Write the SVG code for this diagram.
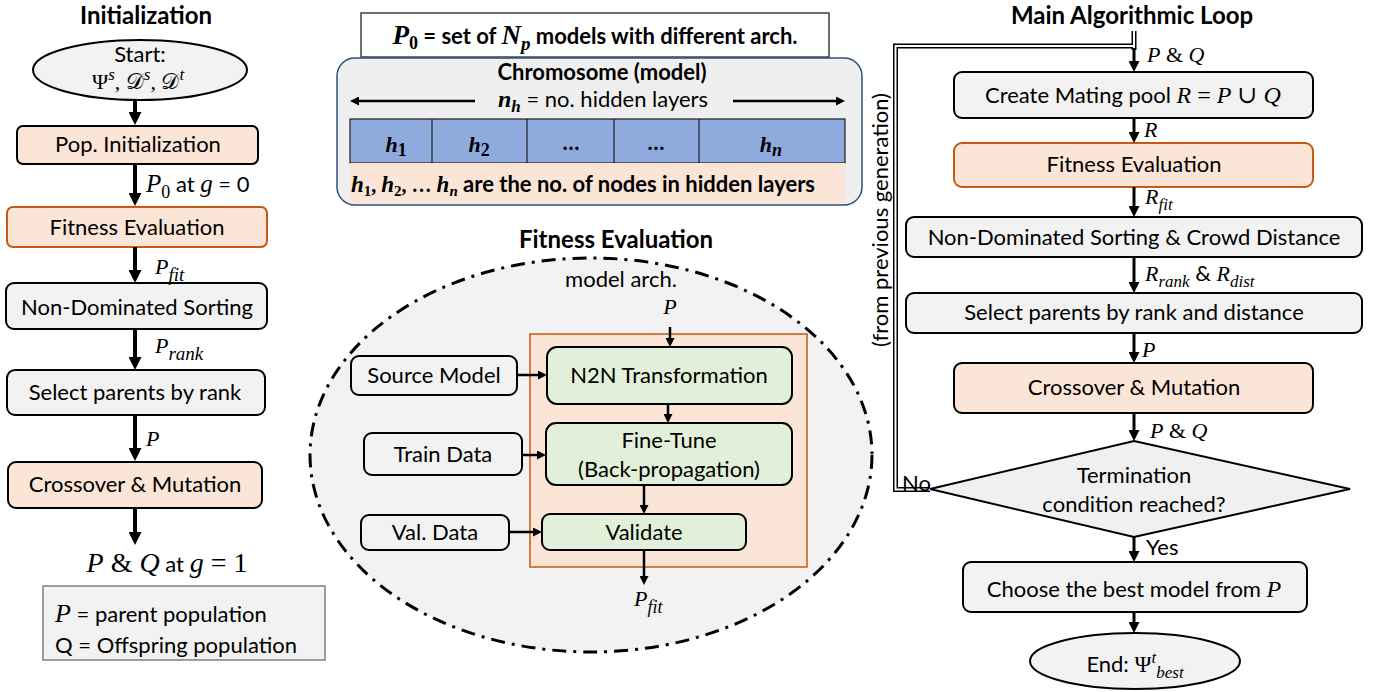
<svg xmlns="http://www.w3.org/2000/svg" width="1374" height="692" viewBox="0 0 1374 692">
<style>
text{font-family:Lato,"Liberation Sans",sans-serif;font-size:22px;fill:#000}
.c{text-anchor:middle}
.b{font-weight:bold}
.t{font-weight:bold;font-size:24px;text-anchor:middle}
.m{font-family:"Liberation Serif","DejaVu Serif",serif;font-style:italic}
.up{font-style:normal}
.sub{font-size:17px}
.box{stroke:#000;stroke-width:2}
.gray{fill:#F2F2F2}
.peach{fill:#FBE5D6}
.orange{stroke:#C55A11}
.green{fill:#E2F0D9}
.arL{stroke:#000;stroke-width:4;fill:none;marker-end:url(#aL)}
.arR{stroke:#000;stroke-width:3;fill:none;marker-end:url(#aR)}
.arM{stroke:#000;stroke-width:2.5;fill:none;marker-end:url(#aM)}
</style>
<defs>
<marker id="aL" markerUnits="userSpaceOnUse" markerWidth="13" markerHeight="13" refX="1" refY="6.5" orient="auto"><path d="M0,0 L13,6.5 L0,13 z" fill="#000"/></marker>
<marker id="aR" markerUnits="userSpaceOnUse" markerWidth="11" markerHeight="11" refX="1" refY="5.5" orient="auto"><path d="M0,0 L11,5.5 L0,11 z" fill="#000"/></marker>
<marker id="aM" markerUnits="userSpaceOnUse" markerWidth="9" markerHeight="9" refX="1" refY="4.5" orient="auto"><path d="M0,0 L9,4.5 L0,9 z" fill="#000"/></marker>
</defs>
<rect width="1374" height="692" fill="#fff"/>

<!-- ===== Left column: Initialization ===== -->
<text class="t" x="146" y="24">Initialization</text>
<g id="start">
<ellipse cx="140" cy="70" rx="107" ry="30" class="box gray"/>
<text class="c" x="140" y="62">Start:</text>
<text class="c m" x="138" y="89" font-size="23"><tspan class="up">Ψ</tspan><tspan dy="-9" class="sub">s</tspan><tspan dy="9" class="up">, 𝒟</tspan><tspan dy="-9" class="sub">s</tspan><tspan dy="9" class="up">, 𝒟</tspan><tspan dy="-9" class="sub">t</tspan></text>
</g>
<g id="pop-init">
<rect x="17" y="126" width="241" height="38" rx="6" class="box peach"/>
<text class="c" x="138" y="152">Pop. Initialization</text>
</g>
<g id="fit-eval-l">
<rect x="7" y="207" width="260" height="40" rx="6" class="box peach orange"/>
<text class="c" x="137" y="235">Fitness Evaluation</text>
</g>
<g id="nds-l">
<rect x="6" y="283" width="261" height="46" rx="8" class="box gray"/>
<text class="c" x="137" y="315">Non-Dominated Sorting</text>
</g>
<g id="select-l">
<rect x="7" y="370" width="258" height="45" rx="8" class="box gray"/>
<text class="c" x="135" y="400">Select parents by rank</text>
</g>
<g id="cross-l">
<rect x="8" y="462" width="254" height="46" rx="8" class="box peach"/>
<text class="c" x="135" y="492">Crossover &amp; Mutation</text>
</g>
<g id="pq-g1">
<text class="c" x="167" y="572" font-size="24"><tspan class="m" font-size="28">P</tspan><tspan class="m up" font-size="28"> &amp; </tspan><tspan class="m" font-size="28">Q</tspan> at <tspan class="m" font-size="28">g</tspan><tspan class="m up" font-size="28"> = 1</tspan></text>
</g>
<g id="legend">
<rect x="43" y="586" width="282" height="74" fill="#F2F2F2" stroke="#7F7F7F" stroke-width="1.5"/>
<text x="55" y="622" font-size="23"><tspan class="m" font-size="26">P</tspan> = parent population</text>
<text x="55" y="653" font-size="23">Q = Offspring population</text>
</g>

<!-- ===== Middle top: chromosome ===== -->
<g id="p0-box">
<rect x="361" y="13" width="468" height="44" fill="#fff" stroke="#404040" stroke-width="1.5"/>
<text class="c b" x="595" y="44" font-size="24"><tspan class="m b" font-size="27">P</tspan><tspan class="m b up" font-size="18" dy="5">0</tspan><tspan dy="-5"> = set of </tspan><tspan class="m b" font-size="27">N</tspan><tspan class="m b" font-size="19" dy="6">p</tspan><tspan dy="-6"> models with different arch.</tspan></text>
</g>
<g id="chromosome">
<rect x="337" y="58" width="525" height="147" rx="18" fill="#EFEFEF" stroke="#2F4F7F" stroke-width="1.5"/>
<text class="c b" x="602" y="80" font-size="22">Chromosome (model)</text>
<text class="c" x="603" y="107" font-size="22.5"><tspan class="m b" font-size="24">n</tspan><tspan class="m b" font-size="17" dy="5">h</tspan><tspan dy="-5"> = no. hidden layers</tspan></text>
<rect x="350" y="119" width="495" height="44" fill="#8FAADC" stroke="#1F1F1F" stroke-width="1.2"/>
<path d="M432 119 V163 M527 119 V163 M614 119 V163 M699 119 V163" stroke="#1F1F1F" stroke-width="1.2"/>
<text class="c m b" x="396" y="152" font-size="26">h<tspan class="up" font-size="18" dy="4">1</tspan></text>
<text class="c m b" x="479" y="152" font-size="26">h<tspan class="up" font-size="18" dy="4">2</tspan></text>
<text class="c b" x="571" y="150" font-size="20">…</text>
<text class="c b" x="656" y="150" font-size="20">…</text>
<text class="c m b" x="771" y="152" font-size="26">h<tspan font-size="18" dy="4">n</tspan></text>
<rect x="350" y="163" width="495" height="40" fill="#FBE5D6"/>
<text class="c b" x="583" y="192" font-size="19"><tspan class="m b" font-size="23">h</tspan><tspan class="m b up" font-size="15" dy="4">1</tspan><tspan class="m b up" dy="-4" font-size="20">, </tspan><tspan class="m b" font-size="23">h</tspan><tspan class="m b up" font-size="15" dy="4">2</tspan><tspan class="m b up" dy="-4" font-size="20">, … </tspan><tspan class="m b" font-size="23">h</tspan><tspan class="m b" font-size="15" dy="4">n</tspan><tspan dy="-4"> are the no. of nodes in hidden layers</tspan></text>
</g>

<!-- ===== Middle: Fitness Evaluation detail ===== -->
<text class="t" x="616" y="248">Fitness Evaluation</text>
<g id="fe-detail">
<ellipse cx="591" cy="455" rx="281" ry="197" fill="#F2F2F2" stroke="#000" stroke-width="3" stroke-dasharray="14 7 3 7"/>
<text class="c" x="621" y="287">model arch.</text>
<text class="c m" x="670" y="314" font-size="23">P</text>
<rect x="530" y="334" width="277" height="233" fill="#FBE5D6" stroke="#C55A11" stroke-width="1.5"/>
</g>
<g id="n2n">
<rect x="547" y="347" width="245" height="57" rx="10" class="box green"/>
<text class="c" x="669" y="383">N2N Transformation</text>
</g>
<g id="finetune">
<rect x="546" y="423" width="246" height="62" rx="10" class="box green"/>
<text class="c" x="669" y="448">Fine-Tune</text>
<text class="c" x="669" y="477">(Back-propagation)</text>
</g>
<g id="validate">
<rect x="542" y="514" width="204" height="36" rx="8" class="box green"/>
<text class="c" x="644" y="540">Validate</text>
</g>
<g id="source-model">
<rect x="351" y="356" width="166" height="39" rx="8" class="box gray"/>
<text class="c" x="434" y="383">Source Model</text>
</g>
<g id="train-data">
<rect x="364" y="433" width="158" height="42" rx="8" class="box gray"/>
<text class="c" x="443" y="462">Train Data</text>
</g>
<g id="val-data">
<rect x="361" y="515" width="148" height="35" rx="8" class="box gray"/>
<text class="c" x="435" y="540">Val. Data</text>
</g>
<text x="634" y="606" class="m" font-size="25">P<tspan font-size="18" dy="7">fit</tspan></text>

<!-- ===== Right column: Main loop ===== -->
<text class="t" x="1132" y="24">Main Algorithmic Loop</text>
<g id="create-pool">
<rect x="954" y="72" width="359" height="46" rx="8" class="box gray"/>
<text class="c" x="1133" y="103">Create Mating pool <tspan class="m" font-size="24">R</tspan><tspan class="m up" font-size="24"> = </tspan><tspan class="m" font-size="24">P</tspan><tspan class="m up" font-size="24"> ∪ </tspan><tspan class="m" font-size="24">Q</tspan></text>
</g>
<g id="fit-eval-r">
<rect x="954" y="143" width="359" height="44" rx="8" class="box peach orange"/>
<text class="c" x="1134" y="172">Fitness Evaluation</text>
</g>
<g id="nds-r">
<rect x="906" y="217" width="456" height="40" rx="8" class="box gray"/>
<text class="c" x="1134" y="245">Non-Dominated Sorting &amp; Crowd Distance</text>
</g>
<g id="select-r">
<rect x="906" y="293" width="456" height="40" rx="8" class="box gray"/>
<text class="c" x="1134" y="320">Select parents by rank and distance</text>
</g>
<g id="cross-r">
<rect x="954" y="363" width="359" height="50" rx="8" class="box peach"/>
<text class="c" x="1134" y="395">Crossover &amp; Mutation</text>
</g>
<g id="termination">
<polygon points="1134,441 1350,489 1134,537 930,489" fill="#F0F0F0" stroke="#000" stroke-width="2"/>
<text class="c" x="1134" y="483">Termination</text>
<text class="c" x="1134" y="512">condition reached?</text>
</g>
<g id="choose-best">
<rect x="963" y="562" width="344" height="50" rx="8" class="box gray"/>
<text class="c" x="1134" y="597">Choose the best model from <tspan class="m" font-size="24">P</tspan></text>
</g>
<g id="end">
<ellipse cx="1135" cy="661" rx="105" ry="28" class="box gray"/>
<text class="c" x="1135" y="672">End: <tspan class="m up" font-size="23">Ψ</tspan><tspan class="m" font-size="17" dy="-9">t</tspan><tspan class="m" font-size="17" dy="15">best</tspan></text>
</g>

<!-- ===== Connectors ===== -->
<g id="connectors">
<line x1="135" y1="100" x2="135" y2="113" class="arL"/>
<line x1="135" y1="164" x2="135" y2="194" class="arL"/>
<line x1="135" y1="247" x2="135" y2="271" class="arL"/>
<line x1="135" y1="329" x2="135" y2="358" class="arL"/>
<line x1="135" y1="415" x2="135" y2="449" class="arL"/>
<line x1="135" y1="508" x2="135" y2="533" class="arL"/>

<line x1="475" y1="101" x2="358" y2="101" class="arM" stroke-width="2"/>
<line x1="733" y1="101" x2="837" y2="101" class="arM" stroke-width="2"/>

<line x1="670" y1="327" x2="670" y2="339" class="arM"/>
<line x1="668" y1="404" x2="668" y2="415" class="arM"/>
<line x1="644" y1="485" x2="644" y2="506" class="arM"/>
<line x1="644" y1="550" x2="644" y2="577" class="arM"/>
<line x1="517" y1="375" x2="539" y2="375" class="arM"/>
<line x1="522" y1="455" x2="538" y2="455" class="arM"/>
<line x1="509" y1="532" x2="534" y2="532" class="arM"/>

<path d="M930 489.5 H895.5 V46 H1134 M1134 31 V50" fill="none" stroke="#000" stroke-width="5"/>
<path d="M930 489.5 H895.5 V46 H1134 M1134 31 V48" fill="none" stroke="#fff" stroke-width="2"/>
<line x1="1134" y1="48" x2="1134" y2="62" class="arR"/>
<line x1="1134" y1="118" x2="1134" y2="133" class="arR"/>
<line x1="1134" y1="187" x2="1134" y2="207" class="arR"/>
<line x1="1134" y1="257" x2="1134" y2="283" class="arR"/>
<line x1="1134" y1="333" x2="1134" y2="353" class="arR"/>
<line x1="1134" y1="413" x2="1134" y2="431" class="arR"/>
<line x1="1134" y1="537" x2="1134" y2="552" class="arR"/>
<line x1="1134" y1="612" x2="1134" y2="623" class="arR"/>
</g>

<!-- connector labels -->
<g id="labels">
<text x="146" y="192"><tspan class="m" font-size="25">P</tspan><tspan class="m up" font-size="18" dy="6">0</tspan><tspan dy="-6"> at </tspan><tspan class="m" font-size="25">g</tspan> = 0</text>
<text x="155" y="274" class="m" font-size="26">P<tspan font-size="19" dy="7">fit</tspan></text>
<text x="155" y="353" class="m" font-size="26">P<tspan font-size="19" dy="7">rank</tspan></text>
<text x="146" y="446" class="m" font-size="26">P</text>

<text x="1147" y="62" class="m" font-size="25">P<tspan class="up"> &amp; </tspan>Q</text>
<text x="1144" y="137" class="m" font-size="23">R</text>
<text x="1145" y="204" class="m" font-size="23">R<tspan font-size="17" dy="6">fit</tspan></text>
<text x="1145" y="281" class="m" font-size="23">R<tspan font-size="17" dy="6">rank</tspan><tspan dy="-6" font-family="Lato,sans-serif" font-style="normal"> &amp; </tspan>R<tspan font-size="17" dy="6">dist</tspan></text>
<text x="1142" y="357" class="m" font-size="25">P</text>
<text x="1150" y="438" class="m" font-size="25">P<tspan class="up"> &amp; </tspan>Q</text>
<text x="1146" y="555" font-size="20">Yes</text>
<text x="902" y="491" font-size="20">No</text>
<text class="c" transform="translate(882,220) rotate(-90)" font-size="21" y="6">(from previous generation)</text>
</g>
</svg>
